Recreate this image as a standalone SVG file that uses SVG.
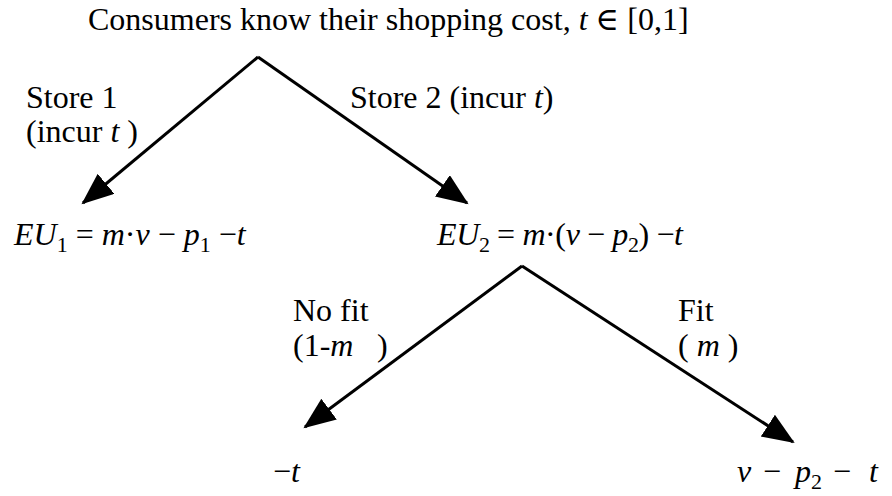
<svg xmlns="http://www.w3.org/2000/svg" width="892" height="496" viewBox="0 0 892 496">
<style>
text{font-family:"Liberation Serif","Times New Roman","DejaVu Serif",serif;font-size:32px;fill:#000}
.i{font-style:italic}
.s{font-size:22px}
.c{fill:none;stroke:#000;stroke-width:3}
</style>
<defs>
<marker id="ah" markerUnits="userSpaceOnUse" markerWidth="34" markerHeight="28" refX="30" refY="13" orient="auto">
<path d="M0,0 L32,13 L0,26 z" fill="#000"/>
</marker>
</defs>
<rect width="892" height="496" fill="#fff"/>
<g id="root">
<text x="88" y="30">Consumers know their shopping cost, <tspan class="i">t</tspan> ∈ [0,1]</text>
</g>
<g id="store1">
<text x="14" y="245"><tspan class="i">EU</tspan><tspan class="s" dy="7">1</tspan><tspan dy="-7"> = </tspan><tspan class="i">m</tspan>·<tspan class="i">v</tspan> − <tspan class="i">p</tspan><tspan class="s" dy="7">1</tspan><tspan dy="-7"> −</tspan><tspan class="i">t</tspan></text>
</g>
<g id="store2">
<text x="437" y="245" textLength="246" lengthAdjust="spacing"><tspan class="i">EU</tspan><tspan class="s" dy="7">2</tspan><tspan dy="-7"> = </tspan><tspan class="i">m</tspan>·(<tspan class="i">v</tspan> − <tspan class="i">p</tspan><tspan class="s" dy="7">2</tspan><tspan dy="-7">) −</tspan><tspan class="i">t</tspan></text>
</g>
<g id="nofit">
<text x="273" y="482">−<tspan class="i">t</tspan></text>
</g>
<g id="fit">
<text y="482"><tspan class="i" x="737">v</tspan><tspan x="763">−</tspan><tspan class="i" x="795">p</tspan><tspan class="s" dy="7">2</tspan><tspan x="833" dy="-7">−</tspan><tspan class="i" x="869">t</tspan></text>
</g>
<g id="connectors">
<line class="c" x1="258" y1="57" x2="83" y2="203" marker-end="url(#ah)"/>
<line class="c" x1="258" y1="57" x2="467" y2="203" marker-end="url(#ah)"/>
<line class="c" x1="522" y1="266" x2="305" y2="427" marker-end="url(#ah)"/>
<line class="c" x1="522" y1="266" x2="793" y2="442" marker-end="url(#ah)"/>
<text x="26" y="108">Store 1</text>
<text x="26" y="142">(incur <tspan class="i">t</tspan> )</text>
<text x="350" y="108">Store 2 (incur <tspan class="i">t</tspan>)</text>
<text x="293" y="321">No fit</text>
<text x="293" y="356">(1-<tspan class="i">m</tspan><tspan x="377">)</tspan></text>
<text x="678" y="321">Fit</text>
<text x="678" y="356">( <tspan class="i">m</tspan> )</text>
</g>
</svg>
